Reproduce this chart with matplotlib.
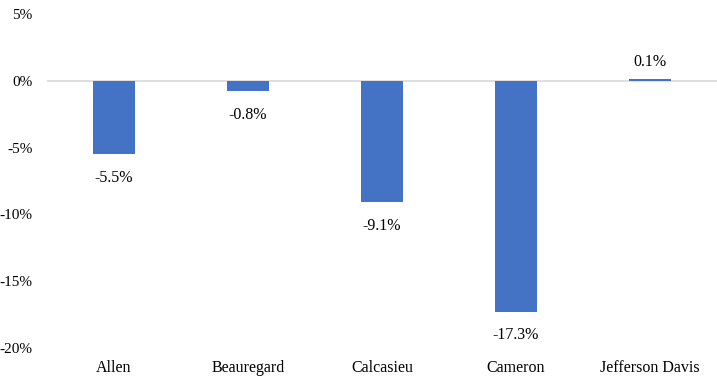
import matplotlib.pyplot as plt
from matplotlib.ticker import FuncFormatter

parishes = ['Allen', 'Beauregard', 'Calcasieu', 'Cameron', 'Jefferson Davis']
change = [-5.5, -0.8, -9.1, -17.3, 0.1]

plt.rcParams['font.family'] = ['Liberation Serif', 'DejaVu Serif']
plt.rcParams['axes.unicode_minus'] = False

fig = plt.figure(figsize=(7.17, 3.77), dpi=100)
ax = fig.add_axes([47 / 717, 29 / 377, 670 / 717, 334 / 377])

x = range(len(parishes))
ax.bar(x, change, width=0.31, color='#4472C4', zorder=3)
ax.axhline(0, color='#D9D9D9', linewidth=1.2, zorder=2)

# value labels: below negative bars, above positive ones
for i, v in zip(x, change):
    if v < 0:
        ax.annotate(f'{v:.1f}%', (i, v), xytext=(0, -11), textcoords='offset points',
                    ha='center', va='top', fontsize=11.5)
    else:
        ax.annotate(f'{v:.1f}%', (i, v), xytext=(0, 7), textcoords='offset points',
                    ha='center', va='bottom', fontsize=11.5)

ax.set_xlim(-0.5, len(parishes) - 0.5)
ax.set_ylim(-20, 5)
ax.set_yticks([5, 0, -5, -10, -15, -20])
ax.yaxis.set_major_formatter(FuncFormatter(lambda v, p: f'{v:.0f}%'))
ax.set_xticks(list(x))
ax.set_xticklabels(parishes)
ax.tick_params(axis='y', length=0, pad=10.5, labelsize=11)
ax.tick_params(axis='x', length=0, pad=9, labelsize=11.5)
for s in ax.spines.values():
    s.set_visible(False)

fig.savefig('out.png', dpi=100)
